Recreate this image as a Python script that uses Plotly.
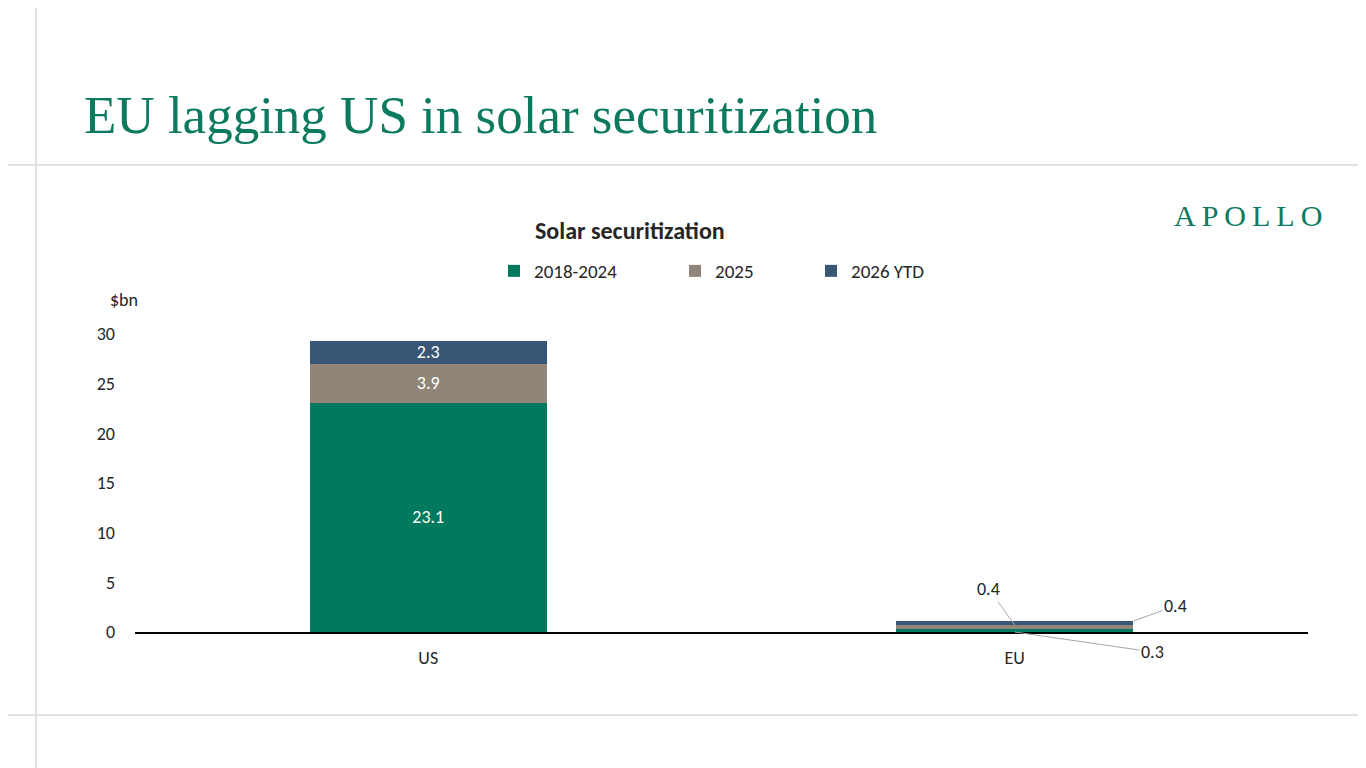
import plotly.graph_objects as go

# data ---------------------------------------------------------------
regions = ["US", "EU"]
series_names = ["2018-2024", "2025", "2026 YTD"]
vals_2018_2024 = [23.1, 0.3]
vals_2025 = [3.9, 0.4]
vals_2026_ytd = [2.3, 0.4]
y_ticks = [0, 5, 10, 15, 20, 25, 30]

colors = ["#007A5E", "#908578", "#3A5677"]
FONT = "Carlito, Lato, sans-serif"
TXT = "#262626"
FS = 18

# plot area in page pixels (page body has an 8px margin)
OFF = 8
L, R, T, B = 135, 1308, 334, 632
W, H = 1366, 768


def px_x(px):
    return (px - L) / (R - L)


def px_y(py):
    return (B - py) / (B - T)


# one legend per series so each entry sits where the original has it
legend_ids = ["legend", "legend2", "legend3"]
legend_px = [494, 675, 811]

fig = go.Figure()
for name, vals, col, lg in zip(series_names, [vals_2018_2024, vals_2025, vals_2026_ytd],
                               colors, legend_ids):
    fig.add_trace(go.Bar(
        x=regions, y=vals, name=name, marker_color=col, marker_line_width=0,
        text=[f"{vals[0]:.1f}", ""], textposition="inside", insidetextanchor="middle",
        constraintext="none", legend=lg,
        textfont=dict(color="white", size=FS, family=FONT),
        hoverinfo="skip",
    ))

# EU labels with leader lines
eu_base = [0, vals_2018_2024[1], vals_2018_2024[1] + vals_2025[1]]
lead = dict(showarrow=True, arrowhead=0, arrowwidth=1, arrowcolor="#A6A6A6",
            font=dict(size=FS, color=TXT, family=FONT))
fig.add_annotation(x=1, y=eu_base[0], text=f"{vals_2018_2024[1]:.1f}", ax=138, ay=20, **lead)
fig.add_annotation(x=1, y=eu_base[2], text=f"{vals_2025[1]:.1f}", ax=-26, ay=-36, **lead)
fig.add_annotation(x=1.202, y=eu_base[2] + vals_2026_ytd[1], text=f"{vals_2026_ytd[1]:.1f}",
                   ax=42, ay=-15, **lead)

# slide decorations
line_col = "#D9D9D9"
fig.add_shape(type="line", xref="paper", yref="paper", x0=px_x(36), x1=px_x(36),
              y0=px_y(0), y1=px_y(790), line=dict(color=line_col, width=1.5))
for yy in [165, 715]:
    fig.add_shape(type="line", xref="paper", yref="paper", x0=px_x(0), x1=px_x(1390),
                  y0=px_y(yy), y1=px_y(yy), line=dict(color=line_col, width=1.5))

fig.add_annotation(xref="paper", yref="paper", x=px_x(82), y=px_y(115), xanchor="left",
                   yanchor="middle", showarrow=False,
                   text="EU lagging US in solar securitization",
                   font=dict(family="Liberation Serif, serif", size=53, color="#0B7A5E"))
fig.add_annotation(xref="paper", yref="paper", x=px_x(1324), y=px_y(215), xanchor="right",
                   yanchor="middle", showarrow=False,
                   text="A\u2009P\u2009O\u2009L\u2009L\u2009O",
                   font=dict(family="Liberation Serif, serif", size=30, color="#0B7A5E"))
fig.add_annotation(xref="paper", yref="paper", x=px_x(630), y=px_y(230), xanchor="center",
                   yanchor="middle", showarrow=False, text="<b>Solar securitization</b>",
                   font=dict(family=FONT, size=24, color=TXT))
fig.add_annotation(xref="paper", yref="paper", x=px_x(108), y=px_y(300), xanchor="left",
                   yanchor="middle", showarrow=False, text="$bn",
                   font=dict(family=FONT, size=FS, color=TXT))

legends = {}
for lg, lx in zip(legend_ids, legend_px):
    legends[lg] = dict(orientation="h", x=px_x(lx), y=px_y(271), xanchor="left",
                       yanchor="middle", itemwidth=30, bgcolor="rgba(0,0,0,0)",
                       font=dict(size=19, color=TXT, family=FONT))

fig.update_layout(
    width=W, height=H,
    margin=dict(l=L - OFF, r=W - (R - OFF), t=T - OFF, b=H - (B - OFF), autoexpand=False),
    barmode="stack", bargap=0.596,
    plot_bgcolor="white", paper_bgcolor="white",
    font=dict(family=FONT, size=FS, color=TXT),
    showlegend=True,
    xaxis=dict(showline=True, linecolor="black", linewidth=1.5, ticks="", showgrid=False,
               ticklabelstandoff=9, tickfont=dict(size=FS, color=TXT)),
    yaxis=dict(range=[0, 30], tickvals=y_ticks, showgrid=False, zeroline=False,
               showline=False, ticks="", ticklabelstandoff=19,
               tickfont=dict(size=FS, color=TXT)),
    **legends,
)

fig.write_html("out.html")
